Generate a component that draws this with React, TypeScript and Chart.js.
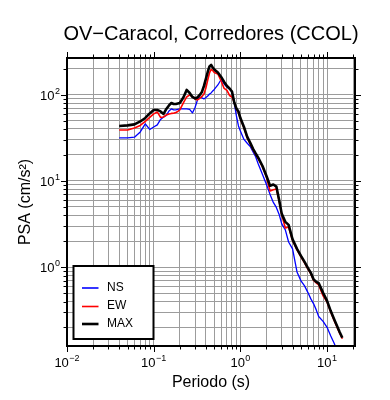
import React, { useEffect, useRef } from 'react';
import { Chart, registerables } from 'chart.js';

Chart.register(...registerables);

// ---- data ----
const periods = [
  0.04, 0.05, 0.06, 0.07, 0.08, 0.09, 0.1, 0.11, 0.12, 0.13, 0.14, 0.15, 0.16, 0.17, 0.18, 0.19, 0.2,
  0.22, 0.24, 0.26, 0.28, 0.3, 0.32, 0.34, 0.36, 0.38, 0.4, 0.42, 0.44, 0.46, 0.48, 0.5,
  0.55, 0.6, 0.65, 0.7, 0.75, 0.8, 0.85, 0.9, 0.95,
  1.0, 1.1, 1.2, 1.3, 1.4, 1.5, 1.6,
  1.8, 2.0, 2.2, 2.4, 2.6, 2.8, 3.0,
  3.3, 3.6, 4.0,
  4.5, 5.0, 5.5, 6.0, 6.5, 7.0, 7.5, 8.0,
  9, 10, 11, 12, 13, 14, 15,
];

const psaNS = [
  31.5, 31.5, 32.1, 37.0, 45.8, 39.5, 42.2, 44.6, 51.6, 55.1, 57.4, 64.7, 68.3, 66.5, 66.5, 67.4, 68.3,
  68.3, 68.3, 67.4, 61.4, 71.1, 86.8, 94.0, 91.6, 89.2, 92.8, 96.6, 101.9, 104.6, 110.4, 114.9,
  129.5, 150.0, 133.0, 122.8, 116.5, 107.5, 80.0, 56.6, 43.4,
  37.9, 30.3, 27.3, 25.1, 21.7, 19.1, 15.9,
  11.9, 9.11, 6.98, 5.63, 4.93, 4.09, 3.18,
  2.71, 1.96, 1.63,
  0.882, 0.694, 0.607, 0.511, 0.429, 0.376, 0.32, 0.268,
  0.235, 0.201, 0.16, 0.133, 0.11, 0.0964, 0.0843,
];

const psaEW = [
  39.0, 39.0, 41.1, 44.0, 48.9, 54.4, 59.8, 63.0, 54.4, 55.1, 58.2, 59.8, 60.6, 60.9, 62.2, 63.9, 66.5,
  80.1, 94.0, 99.2, 94.0, 89.2, 86.8, 90.4, 95.3, 101.9, 119.6, 148.0, 178.4, 195.9, 190.8, 180.8,
  173.8, 144.1, 118.0, 111.9, 97.9, 94.0, 81.0, 68.5, 62.0,
  52.5, 41.1, 31.5, 26.8, 22.9, 20.3, 18.2,
  14.5, 11.1, 7.64, 7.9, 8.08, 5.87, 4.04,
  2.85, 2.93, 2.04,
  1.59, 1.32, 1.12, 0.956, 0.836, 0.703, 0.658, 0.624,
  0.465, 0.396, 0.303, 0.245, 0.203, 0.171, 0.148,
];

const psaMAX = [
  43.4, 44.0, 45.2, 48.9, 53.7, 60.6, 66.5, 66.5, 63.9, 59.8, 68.3, 75.0, 80.1, 78.0, 78.0, 79.1, 80.1,
  92.8, 113.4, 104.6, 94.0, 90.4, 92.8, 99.2, 107.5, 126.1, 152.0, 183.2, 212.3, 220.9, 206.7, 195.9,
  180.8, 160.4, 140.4, 126.1, 118.0, 108.9, 81.2, 69.2, 64.0,
  53.5, 42.2, 32.4, 27.6, 23.5, 20.8, 18.7,
  14.9, 11.4, 8.8, 9.1, 8.6, 6.02, 4.15,
  3.35, 3.09, 2.1,
  1.63, 1.35, 1.15, 0.981, 0.859, 0.722, 0.676, 0.653,
  0.504, 0.407, 0.312, 0.252, 0.209, 0.176, 0.152,
];

const seriesLabels = ['NS', 'EW', 'MAX'];
const seriesColors = ['#0000ff', '#ff0000', '#000000'];
const seriesWidths = [1.3, 1.6, 2.6];

const xTickValues = [0.01, 0.1, 1, 10];
const xTickExps = ['\u22122', '\u22121', '0', '1'];
const yTickValues = [1, 10, 100];
const yTickExps = ['0', '1', '2'];

const titleText = 'OV\u2212Caracol, Corredores (CCOL)';
const xTitle = 'Periodo (s)';
const yTitle = 'PSA (cm/s\u00b2)';

const X_MIN = 0.01;
const X_MAX = 21;
const Y_MIN = 0.122;
const Y_MAX = 266;

const FONT = '"Liberation Sans", Arial, Helvetica, sans-serif';

function logGrid(min: number, max: number): number[] {
  const out: number[] = [];
  for (let e = -3; e <= 3; e++) {
    for (let m = 1; m <= 9; m++) {
      const v = parseFloat((m * Math.pow(10, e)).toPrecision(6));
      if (v >= min - 1e-12 && v <= max + 1e-12) out.push(v);
    }
  }
  return out;
}

function isPow10(v: number) {
  const l = Math.log10(v);
  return Math.abs(l - Math.round(l)) < 1e-9;
}

const framePlugin = {
  id: 'gmtFrame',
  afterDraw(chart: any) {
    const { ctx, chartArea: a, scales } = chart;
    const xs = scales.x;
    const ys = scales.y;
    ctx.save();

    // tick marks outside on all four sides
    ctx.strokeStyle = '#000';
    ctx.lineWidth = 1;
    ctx.beginPath();
    xs.ticks.forEach((t: any) => {
      const p = Math.round(xs.getPixelForValue(t.value)) + 0.5;
      const len = isPow10(t.value) ? 6 : 3.5;
      ctx.moveTo(p, a.bottom);
      ctx.lineTo(p, a.bottom + len);
      ctx.moveTo(p, a.top);
      ctx.lineTo(p, a.top - len);
    });
    ys.ticks.forEach((t: any) => {
      const p = Math.round(ys.getPixelForValue(t.value)) + 0.5;
      const len = isPow10(t.value) ? 6 : 3.5;
      ctx.moveTo(a.left, p);
      ctx.lineTo(a.left - len, p);
      ctx.moveTo(a.right, p);
      ctx.lineTo(a.right + len, p);
    });
    ctx.stroke();

    // frame
    ctx.lineWidth = 2;
    ctx.strokeRect(a.left, a.top, a.right - a.left, a.bottom - a.top);

    // tick labels (10 with superscript exponent)
    ctx.fillStyle = '#000';
    const baseFont = `13px ${FONT}`;
    const supFont = `9px ${FONT}`;
    const drawPow = (xc: number, yBase: number, exp: string, align: 'center' | 'right') => {
      ctx.font = baseFont;
      const wb = ctx.measureText('10').width;
      ctx.font = supFont;
      const we = ctx.measureText(exp).width;
      const total = wb + we + 0.5;
      const x0 = align === 'center' ? xc - total / 2 : xc - total;
      ctx.textAlign = 'left';
      ctx.textBaseline = 'alphabetic';
      ctx.font = baseFont;
      ctx.fillText('10', x0, yBase);
      ctx.font = supFont;
      ctx.fillText(exp, x0 + wb + 0.5, yBase - 6);
    };
    xTickValues.forEach((v, i) => {
      drawPow(xs.getPixelForValue(v), a.bottom + 21, xTickExps[i], 'center');
    });
    yTickValues.forEach((v, i) => {
      drawPow(a.left - 7, ys.getPixelForValue(v) + 5, yTickExps[i], 'right');
    });

    // axis titles
    ctx.font = `16px ${FONT}`;
    ctx.textAlign = 'center';
    ctx.textBaseline = 'alphabetic';
    ctx.fillText(xTitle, (a.left + a.right) / 2, a.bottom + 41);
    ctx.save();
    ctx.translate(30, (a.top + a.bottom) / 2);
    ctx.rotate(-Math.PI / 2);
    ctx.fillText(yTitle, 0, 0);
    ctx.restore();

    // title
    ctx.font = `20px ${FONT}`;
    ctx.fillText(titleText, (a.left + a.right) / 2, 40);

    // legend
    const lx = a.left + 6.5;
    const ly = a.bottom - 80;
    const lw = 80;
    const lh = 73;
    ctx.fillStyle = '#fff';
    ctx.fillRect(lx, ly, lw, lh);
    ctx.strokeStyle = '#000';
    ctx.lineWidth = 2;
    ctx.strokeRect(lx, ly, lw, lh);
    const rows = [22, 40.5, 58];
    chart.data.datasets.forEach((ds: any, i: number) => {
      const yy = ly + rows[i];
      ctx.strokeStyle = ds.borderColor;
      ctx.lineWidth = Math.max(1.6, ds.borderWidth);
      ctx.beginPath();
      ctx.moveTo(lx + 8.5, yy);
      ctx.lineTo(lx + 25, yy);
      ctx.stroke();
      ctx.fillStyle = '#000';
      ctx.font = `12px ${FONT}`;
      ctx.textAlign = 'left';
      ctx.textBaseline = 'middle';
      ctx.fillText(ds.label, lx + 33.5, yy - 0.5);
    });

    ctx.restore();
  },
};

export default function App() {
  const ref = useRef<HTMLCanvasElement | null>(null);

  useEffect(() => {
    if (!ref.current) return;
    const seriesValues = [psaNS, psaEW, psaMAX];
    const datasets = seriesValues.map((vals, i) => ({
      label: seriesLabels[i],
      data: periods.map((p, j) => ({ x: p, y: vals[j] })),
      borderColor: seriesColors[i],
      backgroundColor: seriesColors[i],
      borderWidth: seriesWidths[i],
      pointRadius: 0,
      tension: 0,
      fill: false,
      clip: 0,
      borderJoinStyle: 'round' as const,
      order: 3 - i,
    }));

    const xGrid = logGrid(X_MIN, X_MAX);
    const yGrid = logGrid(Y_MIN, Y_MAX);

    const chart = new Chart(ref.current, {
      type: 'line',
      data: { datasets },
      plugins: [framePlugin],
      options: {
        animation: false,
        responsive: false,
        devicePixelRatio: 1,
        events: [],
        layout: { padding: { top: 58, right: 35, bottom: 0, left: 0 } },
        plugins: {
          legend: { display: false },
          tooltip: { enabled: false },
          title: { display: false },
        },
        scales: {
          x: {
            type: 'logarithmic',
            min: X_MIN,
            max: X_MAX,
            border: { display: false },
            grid: { color: '#9c9c9c', lineWidth: 1, drawTicks: false },
            ticks: { display: false, autoSkip: false },
            afterBuildTicks: (s: any) => {
              s.ticks = xGrid.map((v) => ({ value: v, major: isPow10(v) }));
            },
            afterFit: (s: any) => {
              s.height = 54;
            },
          },
          y: {
            type: 'logarithmic',
            min: Y_MIN,
            max: Y_MAX,
            border: { display: false },
            grid: { color: '#9c9c9c', lineWidth: 1, drawTicks: false },
            ticks: { display: false, autoSkip: false },
            afterBuildTicks: (s: any) => {
              s.ticks = yGrid.map((v) => ({ value: v, major: isPow10(v) }));
            },
            afterFit: (s: any) => {
              s.width = 67;
            },
          },
        },
      },
    });
    return () => chart.destroy();
  }, []);

  return (
    <div style={{ position: 'fixed', left: 0, top: 0, width: 390, height: 400, background: '#fff' }}>
      <canvas ref={ref} width={390} height={400} style={{ display: 'block' }} />
    </div>
  );
}
